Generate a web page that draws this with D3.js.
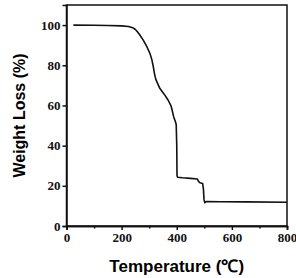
<!DOCTYPE html>
<meta charset="utf-8">
<head>
<script src="https://d3js.org/d3.v7.min.js"></script>
<style>body{margin:0;background:#fff;}</style>
</head>
<body>
<div id="my_dataviz"></div>
<script>
    // TGA curve
    var temps   = [25, 100, 150, 200, 225, 240, 250, 258, 266, 279, 292, 303, 310, 315, 319, 324, 332, 339, 355, 369, 380, 389, 395, 398, 400, 401, 403, 420, 450, 475, 479, 484, 494, 497, 499, 502, 506, 509, 560, 650, 800];
    var weights = [100, 99.9, 99.8, 99.6, 99.3, 98.7, 97.8, 96.6, 95.1, 92.4, 89.1, 85.8, 82.6, 79.2, 76.0, 73.0, 70.5, 68.4, 65.5, 62.6, 59.5, 54.3, 52.0, 50.5, 40, 25.0, 24.3, 24.0, 23.7, 23.4, 22.2, 21.5, 21.2, 18, 13, 11.6, 12.1, 12.2, 12.1, 12.0, 11.8];
    var xTicks = [0, 200, 400, 600, 800];
    var xMinor = [100, 300, 500, 700];
    var yTicks = [0, 20, 40, 60, 80, 100];

    var margin = {top: 5, right: 9, bottom: 52, left: 66.5},
        width = 296 - margin.left - margin.right,
        height = 278 - margin.top - margin.bottom;

    var svg = d3.select("#my_dataviz")
      .append("svg")
        .attr("width", 296)
        .attr("height", 278)
      .append("g")
        .attr("transform", "translate(" + margin.left + "," + margin.top + ")");

    var x = d3.scaleLinear().domain([0, 800]).range([0, width]);
    var y = d3.scaleLinear().domain([0, 110]).range([height, 0]);

    // frame
    svg.append("rect")
      .attr("width", width).attr("height", height)
      .attr("fill", "none").attr("stroke", "#111").attr("stroke-width", 1.5);

    var xAxis = svg.append("g")
      .attr("transform", "translate(0," + height + ")")
      .call(d3.axisBottom(x).tickValues(xTicks).tickSize(4).tickPadding(3));
    svg.append("g")
      .attr("transform", "translate(0," + height + ")")
      .call(d3.axisBottom(x).tickValues(xMinor).tickSize(2.5).tickFormat(""));
    var yAxis = svg.append("g")
      .call(d3.axisLeft(y).tickValues(yTicks).tickSize(4).tickPadding(2));

    svg.selectAll(".domain").attr("stroke", "#111").attr("stroke-width", 1.5);
    svg.selectAll(".tick line").attr("stroke", "#111").attr("stroke-width", 1.5);
    svg.selectAll(".tick text")
      .style("font-family", "'Liberation Serif', serif")
      .style("font-weight", "bold")
      .style("font-size", "13px")
      .attr("fill", "#111");

    var pts = temps.map(function(t, i) { return [t, weights[i]]; });
    svg.append("path")
      .datum(pts)
      .attr("fill", "none")
      .attr("stroke", "#111")
      .attr("stroke-width", 1.6)
      .attr("stroke-linejoin", "round")
      .attr("d", d3.line()
        .x(function(d) { return x(d[0]); })
        .y(function(d) { return y(d[1]); }));

    // X label
    svg.append("text")
      .attr("x", width / 2)
      .attr("y", height + 46)
      .attr("text-anchor", "middle")
      .style("font-family", "'Liberation Sans', Arial, sans-serif")
      .style("font-weight", "bold")
      .style("font-size", "17px")
      .text("Temperature (℃)");

    // Y label
    svg.append("text")
      .attr("transform", "translate(-42," + (height / 2) + ")rotate(-90)")
      .attr("text-anchor", "middle")
      .style("font-family", "'Liberation Sans', Arial, sans-serif")
      .style("font-weight", "bold")
      .style("font-size", "16px")
      .text("Weight Loss (%)");
</script>
</body>
</html>
